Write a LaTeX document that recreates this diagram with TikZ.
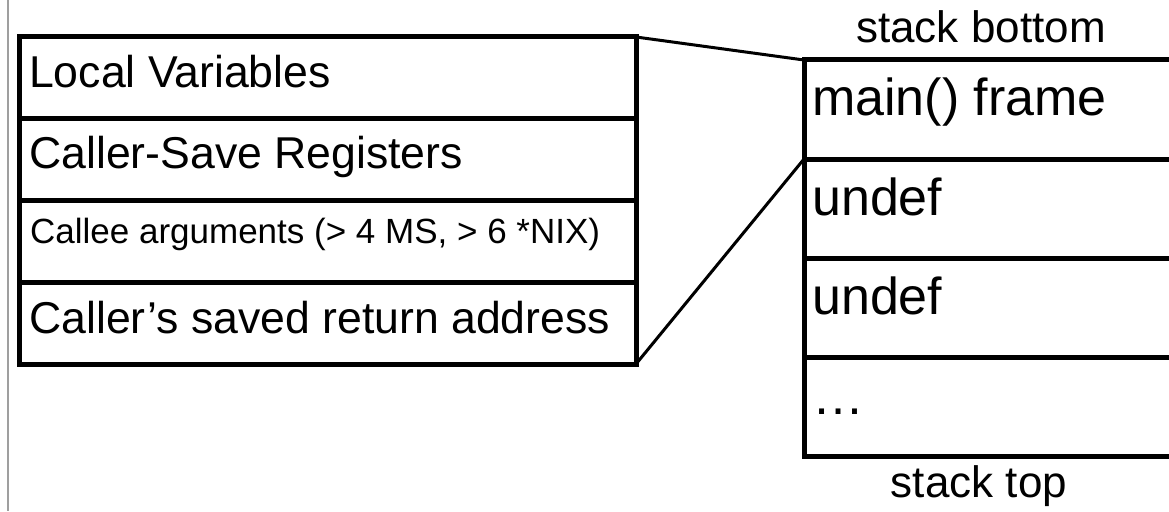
\documentclass[tikz,border=0pt]{standalone}
\usepackage{fontspec}
\setmainfont{Liberation Sans}
\begin{document}
\begin{tikzpicture}[x=1pt,y=-1pt,
  cell/.style={draw, line width=5pt, minimum width=617pt, minimum height=81.75pt,
               anchor=north west, inner sep=0pt, outer sep=0pt},
  slot/.style={draw, line width=5pt, minimum width=420pt, minimum height=99pt,
               anchor=north west, inner sep=0pt, outer sep=0pt},
  big/.style={font=\fontsize{44.6}{48}\selectfont, anchor=base west, inner sep=0pt},
  small/.style={font=\fontsize{35}{40}\selectfont, anchor=base west, inner sep=0pt},
  entry/.style={font=\fontsize{52}{56}\selectfont, anchor=base west, inner sep=0pt},
  caption/.style={font=\fontsize{44}{48}\selectfont, anchor=base, inner sep=0pt},
  link/.style={line width=3pt}]
\useasboundingbox (0,0) rectangle (1169,511);
\clip (0,0) rectangle (1169,511);

% thin rule along the left margin
\draw[gray!75, line width=1.5pt] (8,0) -- (8,511);

% frame layout (left)
\node[cell] (lv) at (19,37) {};
\node[cell] (cs) at (19,118.75) {};
\node[cell] (ca) at (19,200.5) {};
\node[cell] (ra) at (19,282.25) {};
\node[big]   (tlv) at (29,88)  {Local Variables};
\node[big]   (tcs) at (29,168) {Caller-Save Registers};
\node[small] (tca) at (30,243) {Callee arguments (> 4 MS, > 6 *NIX)};
\node[big]   (tra) at (29,333) {Caller’s saved return address};

% the stack (right)
\node[slot] (s0) at (804,60)  {};
\node[slot] (s1) at (804,159) {};
\node[slot] (s2) at (804,258) {};
\node[slot] (s3) at (804,357) {};
\node[entry] (ts0) at (812,115) {main() frame};
\node[entry] (ts1) at (812,215) {undef};
\node[entry] (ts2) at (812,314) {undef};
\node[entry] (ts3) at (812,414) {…};

\node[caption] (bot) at (981,42)  {stack bottom};
\node[caption] (top) at (979,497) {stack top};

% the frame expands the second slot
\draw[link] (lv.north east) -- (s0.north west);
\draw[link] (ra.south east) -- (s1.north west);
\end{tikzpicture}
\end{document}
